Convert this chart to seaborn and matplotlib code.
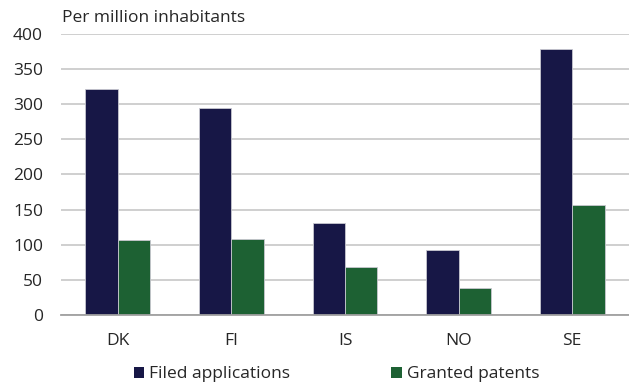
import matplotlib
matplotlib.use("Agg")
import matplotlib.pyplot as plt
from matplotlib.patches import Patch
import seaborn as sns
import pandas as pd

countries = ["DK", "FI", "IS", "NO", "SE"]
filed_applications = [322, 294, 131, 93, 379]
granted_patents = [106, 108, 68, 38, 157]
series_names = ["Filed applications", "Granted patents"]
colors = ["#171746", "#1d6133"]

df = pd.DataFrame({
    "country": countries * 2,
    "value": filed_applications + granted_patents,
    "series": [series_names[0]] * len(countries) + [series_names[1]] * len(countries),
})

sns.set_theme(style="white")
plt.rcParams["font.family"] = ["Open Sans", "DejaVu Sans"]

fig = plt.figure(figsize=(6.29, 3.84), dpi=100)
ax = fig.add_axes([0.097, 0.18, 0.903, 0.7315])

sns.barplot(data=df, x="country", y="value", hue="series", palette=colors,
            width=0.57, gap=0, ax=ax, legend=False, saturation=1,
            edgecolor="#c8c8d0", linewidth=0.6)

ax.set_ylim(0, 400)
ax.set_xlim(-0.5, 4.5)
ax.set_yticks(range(0, 401, 50))
ax.yaxis.grid(True, color="#cccccc", linewidth=1.3)
ax.set_axisbelow(True)
for side in ["top", "right", "left"]:
    ax.spines[side].set_visible(False)
ax.spines["bottom"].set_color("#a0a0a0")
ax.spines["bottom"].set_linewidth(1.3)
ax.tick_params(axis="y", length=0, pad=13, labelsize=12.5)
ax.tick_params(axis="x", length=0, pad=13, labelsize=12.5)
ax.set_xlabel("")
ax.set_ylabel("")

fig.text(0.098, 0.953, "Per million inhabitants", fontsize=12.5, va="center", ha="left")

handles = [Patch(facecolor=c, edgecolor="none") for c in colors]
fig.legend(handles, series_names, loc="center", bbox_to_anchor=(0.535, 0.025),
           ncol=2, frameon=False, fontsize=12.5, handlelength=0.6, handleheight=0.6,
           handletextpad=0.3, columnspacing=5.8)

fig.savefig("out.png", dpi=100)
